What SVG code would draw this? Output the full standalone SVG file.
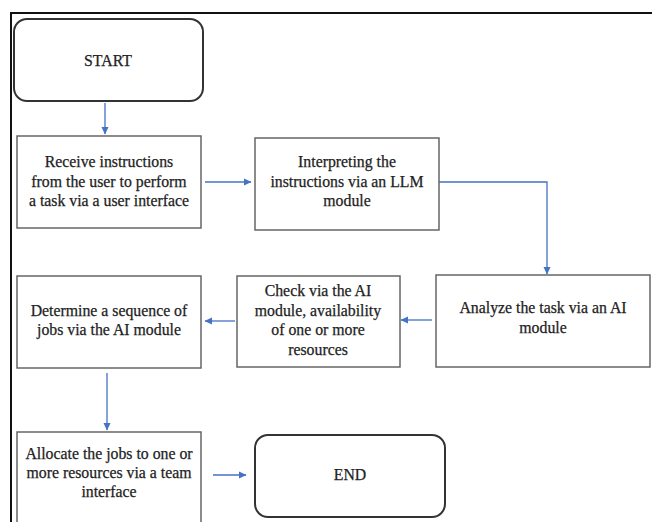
<svg xmlns="http://www.w3.org/2000/svg" width="652" height="522" viewBox="0 0 652 522">
<defs>
<marker id="ah" markerWidth="8" markerHeight="8" refX="7" refY="4" orient="auto" markerUnits="userSpaceOnUse">
<path d="M0,0.5 L7.5,4 L0,7.5 Z" fill="#4472C4"/>
</marker>
<style>
.box{fill:#fff;stroke:#666;stroke-width:1.5}
.term{fill:#fff;stroke:#333;stroke-width:2}
.t{font-size:15.8px;fill:#222;stroke:#222;stroke-width:0.25;text-anchor:middle}
.c{fill:none;stroke:#4472C4;stroke-width:1.3;marker-end:url(#ah)}
</style>
</defs>
<rect width="652" height="522" fill="#fff"/>
<path d="M11,522 V13 H652" fill="none" stroke="#111" stroke-width="2"/>
<g id="connectors">
<path class="c" d="M105,103 V134"/>
<path class="c" d="M205,182 H251"/>
<path class="c" d="M439,182 H547 V274"/>
<path class="c" d="M432,320 H401"/>
<path class="c" d="M235,321 H205"/>
<path class="c" d="M107,373 V430"/>
<path class="c" d="M213,475 H246"/>
</g>
<g font-family="'Liberation Serif', serif">
<g id="start">
<rect class="term" x="14" y="19" width="189" height="82" rx="13"/>
<text class="t" x="108" y="66">START</text>
</g>
<g id="receive">
<rect class="box" x="17" y="136" width="184" height="92"/>
<text class="t" x="109" y="167">Receive instructions</text>
<text class="t" x="109" y="187">from the user to perform</text>
<text class="t" x="109" y="206">a task via a user interface</text>
</g>
<g id="interpret">
<rect class="box" x="255" y="138" width="184" height="92"/>
<text class="t" x="347" y="167">Interpreting the</text>
<text class="t" x="347" y="187">instructions via an LLM</text>
<text class="t" x="347" y="206">module</text>
</g>
<g id="analyze">
<rect class="box" x="436" y="275" width="214" height="92"/>
<text class="t" x="543" y="313">Analyze the task via an AI</text>
<text class="t" x="543" y="333">module</text>
</g>
<g id="check">
<rect class="box" x="237" y="276" width="163" height="91"/>
<text class="t" x="318" y="296">Check via the AI</text>
<text class="t" x="318" y="316">module, availability</text>
<text class="t" x="318" y="335">of one or more</text>
<text class="t" x="318" y="355">resources</text>
</g>
<g id="determine">
<rect class="box" x="17" y="276" width="184" height="92"/>
<text class="t" x="109" y="316">Determine a sequence of</text>
<text class="t" x="109" y="335">jobs via the AI module</text>
</g>
<g id="allocate">
<rect class="box" x="17" y="432" width="184" height="95"/>
<text class="t" x="109" y="459">Allocate the jobs to one or</text>
<text class="t" x="109" y="478">more resources via a team</text>
<text class="t" x="109" y="497">interface</text>
</g>
<g id="end">
<rect class="term" x="255" y="435" width="190" height="82" rx="13"/>
<text class="t" x="350" y="480">END</text>
</g>
</g>
</svg>
